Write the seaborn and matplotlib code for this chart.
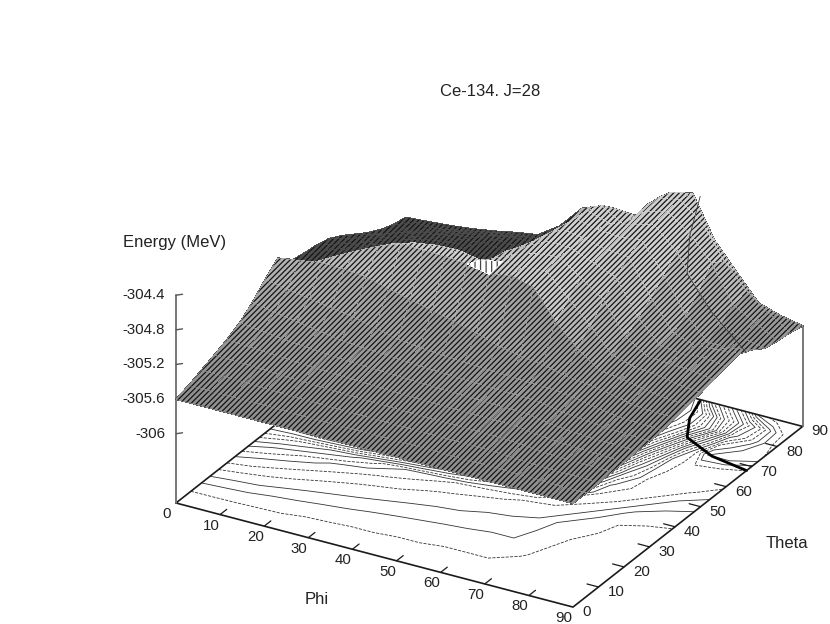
"""Ce-134 energy surface with base contours, gnuplot look."""

import matplotlib

matplotlib.use("Agg")
import matplotlib.pyplot as plt
import numpy as np
import seaborn as sns
from mpl_toolkits.mplot3d import proj3d

phi = [0, 5, 10, 15, 20, 25, 30, 35, 40, 45, 50, 55, 60, 65, 70, 75, 80, 85, 90]
theta = [0, 5, 10, 15, 20, 25, 30, 35, 40, 45, 50, 55, 60, 65, 70, 75, 80, 85, 90]

# one row per theta, columns follow phi
energy = [
    [-305.6] * 19,
    [-305.56, -305.56, -305.56, -305.56, -305.56, -305.57, -305.57, -305.57, -305.57, -305.57, -305.57, -305.57, -305.58, -305.58, -305.58, -305.59, -305.59, -305.6, -305.6],
    [-305.5, -305.505, -305.51, -305.52, -305.525, -305.53, -305.535, -305.54, -305.54, -305.545, -305.545, -305.55, -305.55, -305.55, -305.565, -305.58, -305.59, -305.59, -305.6],
    [-305.44, -305.45, -305.457, -305.47, -305.48, -305.49, -305.497, -305.505, -305.51, -305.515, -305.52, -305.52, -305.525, -305.53, -305.545, -305.57, -305.58, -305.58, -305.59],
    [-305.38, -305.395, -305.41, -305.425, -305.44, -305.45, -305.46, -305.47, -305.48, -305.485, -305.49, -305.495, -305.5, -305.5, -305.535, -305.56, -305.57, -305.58, -305.59],
    [-305.3, -305.33, -305.36, -305.38, -305.4, -305.415, -305.427, -305.435, -305.445, -305.455, -305.46, -305.47, -305.475, -305.48, -305.525, -305.55, -305.57, -305.57, -305.58],
    [-305.18, -305.23, -305.27, -305.31, -305.35, -305.37, -305.385, -305.4, -305.415, -305.425, -305.435, -305.445, -305.45, -305.46, -305.51, -305.53, -305.56, -305.57, -305.58],
    [-305.03, -305.08, -305.12, -305.16, -305.2, -305.26, -305.32, -305.35, -305.37, -305.385, -305.4, -305.41, -305.425, -305.43, -305.46, -305.51, -305.55, -305.56, -305.57],
    [-304.9, -304.86, -304.82, -304.83, -304.85, -304.92, -304.98, -305.04, -305.1, -305.17, -305.25, -305.3, -305.33, -305.39, -305.42, -305.46, -305.52, -305.54, -305.545],
    [-305.05, -305.0, -304.86, -304.73, -304.61, -304.52, -304.52, -304.53, -304.55, -304.6, -304.55, -304.62, -304.95, -305.2, -305.38, -305.41, -305.46, -305.5, -305.515],
    [-305.08, -304.98, -304.88, -304.78, -304.7, -304.62, -304.58, -304.57, -304.62, -304.57, -304.56, -304.55, -304.8, -305.05, -305.32, -305.39, -305.41, -305.46, -305.485],
    [-305.1, -305.02, -304.94, -304.84, -304.77, -304.7, -304.66, -304.64, -304.72, -304.6, -304.53, -304.5, -304.68, -304.86, -305.22, -305.38, -305.4, -305.41, -305.45],
    [-305.14, -305.07, -305.0, -304.92, -304.85, -304.79, -304.75, -304.72, -304.75, -304.62, -304.5, -304.52, -304.62, -304.72, -305.12, -305.37, -305.4, -305.38, -305.41],
    [-305.22, -305.16, -305.07, -305.0, -304.94, -304.88, -304.84, -304.8, -304.82, -304.65, -304.48, -304.52, -304.58, -304.6, -305.0, -305.34, -305.42, -305.4, -305.38],
    [-305.32, -305.26, -305.17, -305.1, -305.04, -304.98, -304.94, -304.88, -304.88, -304.68, -304.47, -304.53, -304.55, -304.52, -304.85, -305.25, -305.5, -305.5, -305.45],
    [-305.42, -305.37, -305.27, -305.2, -305.14, -305.09, -305.05, -305.0, -304.95, -304.72, -304.5, -304.58, -304.52, -304.46, -304.7, -305.09, -305.42, -305.5, -305.55],
    [-305.5, -305.44, -305.37, -305.3, -305.25, -305.2, -305.16, -305.1, -305.0, -304.74, -304.55, -304.7, -304.49, -304.42, -304.6, -304.88, -305.3, -305.44, -305.58],
    [-305.56, -305.47, -305.47, -305.42, -305.37, -305.32, -305.28, -305.2, -305.0, -304.75, -304.7, -304.72, -304.45, -304.4, -304.6, -304.97, -305.25, -305.44, -305.6],
    [-305.59, -305.57, -305.55, -305.52, -305.48, -305.43, -305.39, -305.22, -304.95, -304.86, -305.05, -304.7, -304.5, -304.44, -304.92, -305.22, -305.51, -305.59, -305.64],
]

phi_ticks = [0, 10, 20, 30, 40, 50, 60, 70, 80, 90]
theta_ticks = [0, 10, 20, 30, 40, 50, 60, 70, 80, 90]
energy_ticks = [-304.4, -304.8, -305.2, -305.6, -306]
contour_levels = [-305.55, -305.5, -305.46, -305.42, -305.38, -305.33, -305.28, -305.22, -305.16, -305.1,
                  -305.04, -304.98, -304.92, -304.86, -304.8, -304.74, -304.68, -304.62, -304.56, -304.5]

# the fold near phi 70-90, where the contours pile up
fold_phi = [90, 81, 72.7, 69, 67]
fold_theta = [68, 70, 74.6, 82, 89.6]
fold_energy = [-305.44, -305.14, -304.91, -304.7, -304.44]

BASE = -306.8
TOP = -304.4

sns.set_theme(style="white")
plt.rcParams["font.family"] = ["Liberation Sans", "DejaVu Sans"]
plt.rcParams["hatch.linewidth"] = 0.9

P, T = np.meshgrid(phi, theta)
Z = np.array(energy)

fig = plt.figure(figsize=(8.3, 6.24), dpi=100)
# oversized square so nothing gets clipped at the figure edge side
ax = fig.add_axes([-0.3, -0.3, 1.6, 1.6], projection="3d", proj_type="ortho", computed_zorder=False)
ax.view_init(elev=27, azim=-60)
ax.set_axis_off()
ax.set_xlim(0, 90)
ax.set_ylim(0, 90)
ax.set_zlim(BASE, TOP)
ax.set_box_aspect((458, 459, 233), zoom=1.0)


def to_px(x, y, z):
    sx, sy, _ = proj3d.proj_transform(x, y, z, ax.get_proj())
    return ax.transData.transform((sx, sy))


# fit the box onto the reference corners (176,503) and (573,607), y measured from the top
ax.apply_aspect()
span = np.hypot(*(to_px(90, 0, BASE) - to_px(0, 0, BASE)))
ax.set_box_aspect((458, 459, 233), zoom=np.hypot(397, 104) / span)
ax.apply_aspect()
now = to_px(0, 0, BASE)
box = ax.get_position(original=True)
ax.set_position([box.x0 + (176 - now[0]) / 830, box.y0 + ((624 - 503) - now[1]) / 624, box.width, box.height])
ax.apply_aspect()

# mesh opens up towards the ridge, closes where it is seen at a grazing angle
dz_dtheta, dz_dphi = np.gradient(Z, 5, 5)
area = np.abs(4.41 * (-2.011 - dz_dtheta * 86.9) - 2.556 * (1.156 - dz_dphi * 86.9)) / 11.8
grey = 0.56 + 0.26 * np.clip((Z + 305.6) / 1.1, 0, 1)
grey = np.where((area < 0.85) & (P < 40) & (T > 40), 0.3, grey)
faces = sns.color_palette("gray", as_cmap=True)(grey)

ax.contour(P, T, Z, levels=contour_levels, zdir="z", offset=BASE, colors="#333333", linewidths=0.6,
           linestyles=["--", "-", "-", "--", "--", "-"], zorder=1)
ax.plot(fold_phi, fold_theta, [BASE] * len(fold_phi), color="black", lw=2.0, zorder=1)

# frame
ax.plot([0, 90, 90, 0, 0], [0, 0, 90, 90, 0], [BASE] * 5, color="#1a1a1a", lw=1.2, zorder=2)
ax.plot([0, 0], [0, 0], [BASE, TOP], color="#777777", lw=1.4, zorder=2)
ax.plot([90, 90], [90, 90], [BASE, -305.64], color="#777777", lw=1.4, zorder=2)

for v in phi_ticks[1:-1]:
    ax.plot([v, v], [0, 2.6], [BASE, BASE], color="#1a1a1a", lw=0.9, zorder=2)
for v in theta_ticks[1:-1]:
    ax.plot([90, 87.4], [v, v], [BASE, BASE], color="#1a1a1a", lw=0.9, zorder=2)
for v in energy_ticks:
    ax.plot([0, 0.9], [0, 1.0], [v, v], color="#555555", lw=1.0, zorder=2)

# plain layer underneath closes the seams of the hatched one
ax.plot_surface(P, T, Z, rstride=1, cstride=1, facecolors=faces, shade=False, linewidth=0.6,
                edgecolor="#555555", antialiased=False, zorder=3)
ax.plot_surface(P, T, Z, rstride=1, cstride=1, facecolors=faces, shade=False, linewidth=0,
                edgecolor="#141414", antialiased=False, hatch="//////", zorder=4)

# gap behind the crest, mesh seen through
ax.plot_surface(P[9:11, 8:10], T[9:11, 8:10], Z[9:11, 8:10], color="white", shade=False, linewidth=0,
                edgecolor="#444444", antialiased=False, hatch="|||", zorder=5)
ax.plot(fold_phi, fold_theta, fold_energy, color="#3a3a3a", lw=0.6, zorder=6)


def put(px, py, label, size=10.8, ha="center"):
    fig.text(px / 830, 1 - py / 624, label, fontsize=size, ha=ha, va="center", color="#222222")


for v in phi_ticks:
    x, y = to_px(v, 0, BASE)
    put(x - 9, 624 - y + 11, str(v))
for v in theta_ticks:
    x, y = to_px(90, v, BASE)
    put(x + 9, 624 - y + 5, str(v), ha="left")
for v in energy_ticks:
    x, y = to_px(0, 0, v)
    put(x - 11, 624 - y, f"{v:g}", ha="right")

put(490, 91, "Ce-134. J=28", size=12)
put(175, 242, "Energy (MeV)", size=12)
put(317, 600, "Phi", size=12)
put(787, 543, "Theta", size=12)

fig.savefig("out.png", dpi=100)
